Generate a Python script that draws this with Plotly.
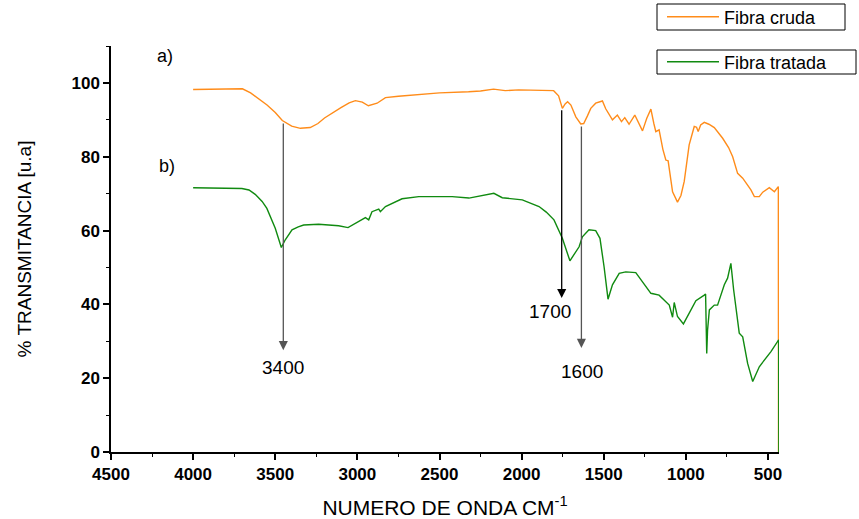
import plotly.graph_objects as go

# Fibra cruda (orange)
cruda_x = [4000, 3850, 3700, 3650, 3600, 3550, 3500, 3457, 3400, 3347, 3287, 3240, 3200, 3150,
           3100, 3050, 3012, 2970, 2933, 2880, 2829, 2750, 2628, 2500, 2323, 2250, 2171, 2100,
           2018, 1950, 1884, 1805, 1775, 1752, 1735, 1720, 1700, 1670, 1640, 1622, 1600, 1579,
           1549, 1508, 1488, 1447, 1417, 1392, 1372, 1346, 1311, 1264, 1238, 1213, 1195, 1183,
           1163, 1140, 1122, 1108, 1081, 1051, 1030, 1010, 980, 949, 935, 925, 910, 888, 860,
           827, 776, 740, 715, 685, 654, 604, 583, 553, 532, 492, 461, 437, 436]
cruda_y = [98.2, 98.3, 98.4, 97.3, 95.7, 94.0, 92.0, 89.8, 88.3, 87.7, 87.9, 89.0, 90.5, 92.0,
           93.3, 94.6, 95.2, 94.8, 93.8, 94.5, 96.0, 96.4, 96.9, 97.3, 97.6, 97.8, 98.3, 97.9,
           98.1, 98.0, 98.1, 97.9, 96.5, 93.1, 94.3, 94.9, 94.0, 90.8, 88.9, 89.0, 91.0, 93.1,
           94.5, 95.1, 93.0, 90.0, 91.3, 89.5, 90.6, 88.8, 91.3, 87.0, 90.4, 92.9, 89.0, 86.8,
           87.3, 82.0, 79.1, 78.9, 70.5, 67.7, 69.5, 73.3, 83.2, 88.2, 88.0, 86.8, 88.6, 89.3,
           88.8, 87.9, 85.0, 82.5, 80.0, 75.5, 74.2, 71.0, 69.2, 69.2, 70.4, 71.6, 70.5, 71.9, 0]

# Fibra tratada (green)
tratada_x = [4000, 3850, 3703, 3660, 3622, 3580, 3551, 3500, 3463, 3439, 3398, 3360, 3327, 3236,
             3114, 3057, 2992, 2951, 2931, 2911, 2870, 2860, 2829, 2728, 2626, 2423, 2321, 2169,
             2118, 1996, 1894, 1850, 1803, 1752, 1706, 1671, 1650, 1630, 1590, 1549, 1523, 1498,
             1474, 1447, 1406, 1366, 1305, 1213, 1163, 1101, 1081, 1071, 1051, 1015, 939, 888,
             880, 873, 868, 857, 827, 807, 766, 746, 726, 709, 675, 654, 624, 593, 553, 482, 435,
             434]
tratada_y = [71.6, 71.5, 71.4, 71.0, 69.8, 67.9, 66.0, 60.6, 55.4, 57.5, 60.2, 61.0, 61.5, 61.7,
             61.3, 60.8, 62.4, 63.5, 62.9, 65.1, 65.8, 65.1, 66.5, 68.6, 69.2, 69.2, 68.8, 70.1,
             68.9, 68.3, 66.5, 65.0, 62.9, 57.9, 51.8, 54.3, 55.6, 58.3, 60.2, 60.0, 57.9, 50.2,
             41.4, 45.3, 48.4, 48.8, 48.6, 43.0, 42.5, 39.8, 36.5, 40.5, 36.7, 34.7, 41.0, 42.5,
             42.8, 26.7, 33.0, 38.5, 39.8, 39.8, 45.3, 47.1, 51.1, 43.9, 32.2, 31.2, 24.0, 19.1,
             23.1, 27.2, 30.4, 0]

x_ticks = [4500, 4000, 3500, 3000, 2500, 2000, 1500, 1000, 500]
y_ticks = [0, 20, 40, 60, 80, 100]

# band markers
band_labels = ["3400", "1700", "1600"]
band_x = [3451, 1756, 1636]
band_y0 = [89.4, 93.0, 88.6]
band_y1 = [27.6, 41.7, 28.2]
band_lx = [3451, 1830, 1630]
band_ly = [23.0, 38.2, 21.7]
band_colors = ["#555555", "#000000", "#555555"]

FONT = "Liberation Sans, Arial, sans-serif"

fig = go.Figure()
fig.add_trace(go.Scatter(x=cruda_x, y=cruda_y, mode="lines", name="Fibra cruda",
                         line=dict(color="#FF8C1A", width=1.4), legend="legend"))
fig.add_trace(go.Scatter(x=tratada_x, y=tratada_y, mode="lines", name="Fibra tratada",
                         line=dict(color="#108A10", width=1.4), legend="legend2"))

annotations = []
for lab, bx, y0, y1, lx, ly, col in zip(band_labels, band_x, band_y0, band_y1, band_lx, band_ly, band_colors):
    annotations.append(dict(x=bx, y=y1, ax=bx, ay=y0, xref="x", yref="y", axref="x", ayref="y",
                            text="", showarrow=True, arrowhead=2, arrowsize=1.4, arrowwidth=1.3,
                            arrowcolor=col))
    annotations.append(dict(x=lx, y=ly, xref="x", yref="y", text=lab, showarrow=False,
                            font=dict(family=FONT, size=19, color="black")))
annotations.append(dict(x=4171, y=107.3, xref="x", yref="y", text="a)", showarrow=False,
                        font=dict(family=FONT, size=18, color="black")))
annotations.append(dict(x=4159, y=77.5, xref="x", yref="y", text="b)", showarrow=False,
                        font=dict(family=FONT, size=18, color="black")))

# legend frames (pixel -> paper coordinates of plot area: x 111..779, y 452..46)
def px_x(p):
    return (p - 111) / 668.0

def px_y(p):
    return (452 - p) / 406.0

shapes = [
    dict(type="rect", xref="paper", yref="paper", x0=px_x(657), x1=px_x(845), y0=px_y(30),
         y1=px_y(4), line=dict(color="black", width=1), fillcolor="rgba(0,0,0,0)"),
    dict(type="rect", xref="paper", yref="paper", x0=px_x(657), x1=px_x(856), y0=px_y(74),
         y1=px_y(50), line=dict(color="black", width=1), fillcolor="rgba(0,0,0,0)"),
]

fig.update_layout(
    width=859, height=519,
    margin=dict(l=111, r=80, t=46, b=67, autoexpand=False),
    paper_bgcolor="white", plot_bgcolor="white",
    font=dict(family=FONT, color="black"),
    showlegend=True,
    legend=dict(x=662 / 859, y=1 - 17 / 519, xref="container", yref="container",
                xanchor="left", yanchor="middle", borderwidth=0,
                font=dict(family=FONT, size=18), bgcolor="rgba(0,0,0,0)",
                itemwidth=52, tracegroupgap=0),
    legend2=dict(x=662 / 859, y=1 - 62 / 519, xref="container", yref="container",
                 xanchor="left", yanchor="middle", borderwidth=0,
                 font=dict(family=FONT, size=18), bgcolor="rgba(0,0,0,0)",
                 itemwidth=52),
    annotations=annotations,
    shapes=shapes,
)
fig.update_xaxes(range=[4500, 433], tickvals=x_ticks, ticktext=[str(v) for v in x_ticks],
                 showline=True, linecolor="black", linewidth=1.5, showgrid=False, zeroline=False,
                 ticks="outside", ticklen=6, tickwidth=1.5, tickcolor="black",
                 tickfont=dict(family=FONT, size=17, color="black", weight="bold"),
                 minor=dict(ticks="outside", ticklen=3, tickwidth=1.2, tickcolor="black",
                            dtick=250, tick0=0, showgrid=False),
                 title=dict(text="NUMERO DE ONDA CM<sup>-1</sup>",
                            font=dict(family=FONT, size=21, color="black"), standoff=26))
fig.update_yaxes(range=[0, 110], tickvals=y_ticks, ticktext=[str(v) for v in y_ticks],
                 showline=True, linecolor="black", linewidth=1.5, showgrid=False, zeroline=False,
                 ticks="outside", ticklen=6, tickwidth=1.5, tickcolor="black",
                 tickfont=dict(family=FONT, size=17, color="black", weight="bold"),
                 minor=dict(ticks="outside", ticklen=3, tickwidth=1.2, tickcolor="black",
                            dtick=10, tick0=0, showgrid=False),
                 title=dict(text="% TRANSMITANCIA [u.a]",
                            font=dict(family=FONT, size=19, color="black"), standoff=35))

fig.write_html("out.html")
